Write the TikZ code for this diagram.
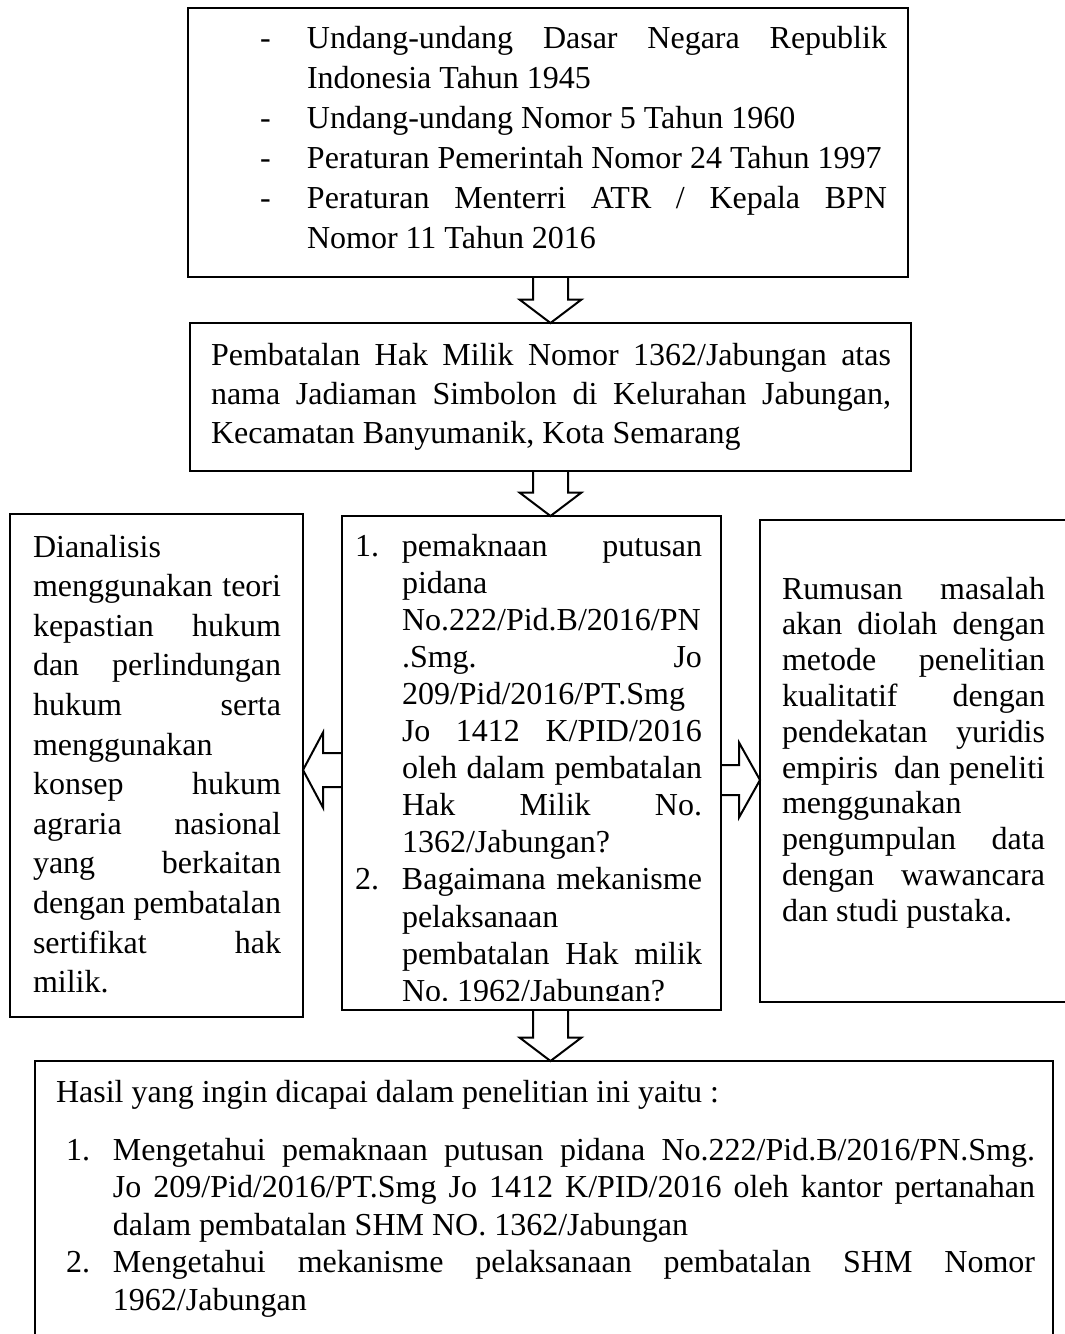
\documentclass[tikz,border=0pt]{standalone}
\usepackage{fontspec}
\setmainfont{Liberation Serif}
\usetikzlibrary{calc}
\newlength\labw
\newlength\jw
\newcommand\setup[2]{\frenchspacing\spaceskip=4pt plus 40pt minus 1.4pt\relax\setlength\jw{#1}\setlength\labw{#2}\noindent}
\newcommand\lineJ[1]{\leavevmode\hbox to \jw{#1}}
\newcommand\lineN[1]{\leavevmode\hbox{#1}}
\newcommand\itemJ[2]{\leavevmode\hbox to \jw{\hbox to \labw{#1\hfil}\hbox to \dimexpr\jw-\labw\relax{#2}}}
\newcommand\itemN[2]{\leavevmode\hbox{\hbox to \labw{#1\hfil}#2}}
\newcommand\contJ[1]{\leavevmode\hbox to \jw{\hskip\labw\hbox to \dimexpr\jw-\labw\relax{#1}}}
\newcommand\contN[1]{\leavevmode\hbox{\hskip\labw#1}}
\begin{document}
\begin{tikzpicture}[x=0.5pt,y=-0.5pt,
  boxframe/.style={draw, line width=1.2pt, inner sep=0pt, outer sep=0pt, anchor=north west},
  txt/.style={inner sep=0pt, outer sep=0pt, anchor=base west, align=left},
  blk/.style={draw, line width=1pt, line join=miter}]
\useasboundingbox (0,0) rectangle (1065,1334);
\clip (0,0) rectangle (1065,1334);

% boxes
\node[boxframe, minimum width=360pt, minimum height=134.5pt] (top) at (188,8) {};
\node[boxframe, minimum width=360.5pt, minimum height=74pt] (box2) at (190,323) {};
\node[boxframe, minimum width=146.5pt, minimum height=251.5pt] (left) at (10,514) {};
\node[boxframe, minimum width=189.5pt, minimum height=247pt] (mid) at (342,516) {};
\node[boxframe, minimum width=165pt, minimum height=241pt] (right) at (760,520) {};
\node[boxframe, minimum width=509pt, minimum height=150pt] (bot) at (35,1061) {};

% texts
\node[txt, text width=313.5pt, font=\fontsize{16}{20}\selectfont] (toptext) at (260,48) {\setup{313.5pt}{23.5pt}%
\itemJ{-}{Undang-undang Dasar Negara Republik}\\
\contN{Indonesia Tahun 1945}\\
\itemN{-}{Undang-undang Nomor 5 Tahun 1960}\\
\itemN{-}{Peraturan Pemerintah Nomor 24 Tahun 1997}\\
\itemJ{-}{Peraturan Menterri ATR / Kepala BPN}\\
\contN{Nomor 11 Tahun 2016}};

\node[txt, text width=340pt, font=\fontsize{16}{19.5}\selectfont] (box2text) at (211,365) {\setup{340pt}{0pt}%
\lineJ{Pembatalan Hak Milik Nomor 1362/Jabungan atas}\\
\lineJ{nama Jadiaman Simbolon di Kelurahan Jabungan,}\\
\lineN{Kecamatan Banyumanik, Kota Semarang}};

\node[txt, text width=124pt, font=\fontsize{16}{19.8}\selectfont] (lefttext) at (33,557) {\setup{124pt}{0pt}%
\lineN{Dianalisis}\\
\lineJ{menggunakan teori}\\
\lineJ{kepastian hukum}\\
\lineJ{dan perlindungan}\\
\lineJ{hukum serta}\\
\lineN{menggunakan}\\
\lineJ{konsep hukum}\\
\lineJ{agraria nasional}\\
\lineJ{yang berkaitan}\\
\lineJ{dengan pembatalan}\\
\lineJ{sertifikat hak}\\
\lineN{milik.}};

\begin{scope}
\clip (342,516) rectangle (721,1000);
\node[txt, text width=173.5pt, font=\fontsize{16}{18.55}\selectfont] (midtext) at (355,556) {\setup{173.5pt}{23.5pt}%
\itemJ{1.}{pemaknaan putusan}\\
\contN{pidana}\\
\contN{No.222/Pid.B/2016/PN}\\
\contJ{.Smg. Jo}\\
\contN{209/Pid/2016/PT.Smg}\\
\contJ{Jo 1412 K/PID/2016}\\
\contJ{oleh dalam pembatalan}\\
\contJ{Hak Milik No.}\\
\contN{1362/Jabungan?}\\
\itemJ{2.}{Bagaimana mekanisme}\\
\contN{pelaksanaan}\\
\contJ{pembatalan Hak milik}\\
\contN{No. 1962/Jabungan?}};
\end{scope}

\node[txt, text width=131.5pt, font=\fontsize{16}{17.9}\selectfont] (righttext) at (782,599) {\setup{131.5pt}{0pt}%
\lineJ{Rumusan masalah}\\
\lineJ{akan diolah dengan}\\
\lineJ{metode penelitian}\\
\lineJ{kualitatif dengan}\\
\lineJ{pendekatan yuridis}\\
\lineJ{empiris\hskip 8pt plus 12pt dan peneliti}\\
\lineN{menggunakan}\\
\lineJ{pengumpulan data}\\
\lineJ{dengan wawancara}\\
\lineN{dan studi pustaka.}};

\node[txt, font=\fontsize{16}{18.75}\selectfont] (hasil) at (56,1102) {\frenchspacing Hasil yang ingin dicapai dalam penelitian ini yaitu :};

\node[txt, text width=484.5pt, font=\fontsize{16}{18.75}\selectfont] (bottext) at (66,1160) {\setup{484.5pt}{23.5pt}%
\itemJ{1.}{Mengetahui pemaknaan putusan pidana No.222/Pid.B/2016/PN.Smg.}\\
\contJ{Jo 209/Pid/2016/PT.Smg Jo 1412 K/PID/2016 oleh kantor pertanahan}\\
\contN{dalam pembatalan SHM NO. 1362/Jabungan}\\
\itemJ{2.}{Mengetahui mekanisme pelaksanaan pembatalan SHM Nomor}\\
\contN{1962/Jabungan}};

% connectors (block arrows)
\coordinate (a1s) at (box2.north |- top.south);
\coordinate (a1t) at (box2.north);
\coordinate (a2s) at (box2.south);
\coordinate (a2t) at (box2.south |- mid.north);
\coordinate (a3s) at (box2.south |- mid.south);
\coordinate (a3t) at (box2.south |- bot.north);
\foreach \s/\t in {a1s/a1t, a2s/a2t, a3s/a3t}{
  \draw[blk] ($(\s)+(-17.5,0)$) -- ($(\t)+(-17.5,-23.5)$) -- ($(\t)+(-31,-23.5)$) -- (\t)
    -- ($(\t)+(31,-23.5)$) -- ($(\t)+(17.5,-23.5)$) -- ($(\s)+(17.5,0)$);
}
\coordinate (las) at ($(mid.west)+(0,7)$);
\coordinate (lat) at (left.east |- las);
\draw[blk] ($(las)+(0,-17)$) -- ($(lat)+(20,-17)$) -- ($(lat)+(20,-37.5)$) -- (lat)
  -- ($(lat)+(20,37.5)$) -- ($(lat)+(20,17)$) -- ($(las)+(0,17)$);
\coordinate (ras) at ($(mid.east)+(0,17)$);
\coordinate (rat) at (right.west |- ras);
\draw[blk] ($(ras)+(0,-15)$) -- ($(rat)+(-21,-15)$) -- ($(rat)+(-21,-37.5)$) -- (rat)
  -- ($(rat)+(-21,37.5)$) -- ($(rat)+(-21,15)$) -- ($(ras)+(0,15)$);
\end{tikzpicture}
\end{document}
